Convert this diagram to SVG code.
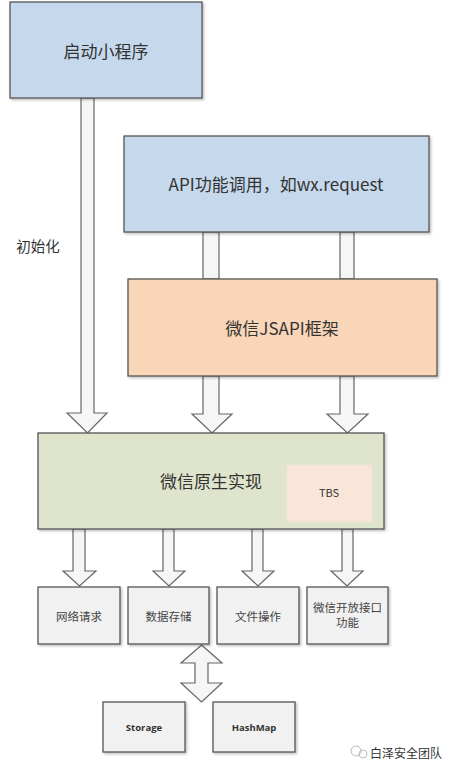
<svg xmlns="http://www.w3.org/2000/svg" width="454" height="772" viewBox="0 0 454 772">
<defs>
<filter id="sh" x="-5%" y="-5%" width="115%" height="120%">
<feDropShadow dx="1.5" dy="1.5" stdDeviation="1" flood-color="#000" flood-opacity="0.25"/>
</filter>
</defs>
<style>
.box{stroke:#555;stroke-width:1.3;filter:url(#sh)}
.blue{fill:#c6d9ec}
.peach{fill:#f9d6b7}
.green{fill:#dfe5cc}
.gray{fill:#f1f1f1}
.arr{fill:#f6f6f6;stroke:#666;stroke-width:1.2;stroke-linejoin:miter}
.t{font-family:"Noto Sans CJK SC","Liberation Sans",sans-serif;fill:#333;text-anchor:middle;dominant-baseline:central}
.big{font-size:17px}
.sm{font-size:11.5px;fill:#444}
.en{font-family:"Open Sans","Liberation Sans",sans-serif;font-weight:bold;font-size:9.5px;fill:#333;text-anchor:middle;dominant-baseline:central}
</style>
<rect width="454" height="772" fill="#fff"/>
<g id="connectors">
<path class="arr" d="M81,98 L94,98 L94,413 L107,413 L87.5,433 L67,413 L81,413 Z"/>
<rect class="arr" x="203" y="232" width="16" height="47"/>
<rect class="arr" x="340" y="232" width="14" height="47"/>
<path class="arr" d="M203,376 L219,376 L219,414 L232,414 L212,433 L192,414 L203,414 Z"/>
<path class="arr" d="M340,376 L354,376 L354,414 L368,414 L347.5,433 L327,414 L340,414 Z"/>
<path class="arr" d="M73,529 L85,529 L85,571 L96,571 L79.5,586 L63,571 L73,571 Z"/>
<path class="arr" d="M163,529 L174,529 L174,571 L185,571 L169,586 L153,571 L163,571 Z"/>
<path class="arr" d="M252,529 L263,529 L263,571 L274,571 L258,586 L242,571 L252,571 Z"/>
<path class="arr" d="M342,529 L353,529 L353,571 L363,571 L347,586 L331,571 L342,571 Z"/>
<path class="arr" d="M201.5,645 L222,663 L208,663 L208,683 L222,683 L201.5,702 L181,683 L195,683 L195,663 L181,663 Z"/>
</g>
<g id="start">
<rect class="box blue" x="10" y="2" width="192" height="96"/>
<text class="t big" x="106" y="50">启动小程序</text>
</g>
<g id="init-label">
<text class="t" x="38" y="245" font-size="14.5">初始化</text>
</g>
<g id="api">
<rect class="box blue" x="124" y="136" width="305" height="96"/>
<text class="t big" x="276" y="183">API功能调用，如wx.request</text>
</g>
<g id="jsapi">
<rect class="box peach" x="128" y="279" width="309" height="97"/>
<text class="t big" x="282" y="327">微信JSAPI框架</text>
</g>
<g id="native">
<rect class="box green" x="38" y="433" width="346" height="96"/>
<text class="t big" x="211" y="480">微信原生实现</text>
</g>
<g id="tbs">
<rect x="287" y="465" width="85" height="57" fill="#f9e6d8" stroke="#efe3d3" stroke-width="1"/>
<text class="t" x="329" y="492" font-size="11" fill="#333">TBS</text>
</g>
<g id="net">
<rect class="box gray" x="38" y="587" width="82" height="57"/>
<text class="t sm" x="79" y="616">网络请求</text>
</g>
<g id="data">
<rect class="box gray" x="128" y="587" width="81" height="57"/>
<text class="t sm" x="168.5" y="616">数据存储</text>
</g>
<g id="file">
<rect class="box gray" x="217" y="587" width="82" height="57"/>
<text class="t sm" x="258" y="616">文件操作</text>
</g>
<g id="open">
<rect class="box gray" x="307" y="587" width="81" height="57"/>
<text class="t sm" x="347.5" y="607">微信开放接口</text>
<text class="t sm" x="347.5" y="622">功能</text>
</g>
<g id="storage">
<rect class="box gray" x="103" y="702" width="82" height="50"/>
<text class="en" x="144" y="727">Storage</text>
</g>
<g id="hashmap">
<rect class="box gray" x="213" y="702" width="82" height="50"/>
<text class="en" x="254" y="727">HashMap</text>
</g>
<g id="watermark">
<circle cx="356" cy="751" r="5" fill="none" stroke="#bbb" stroke-width="1"/>
<circle cx="363" cy="754" r="4" fill="none" stroke="#bbb" stroke-width="1"/>
<text class="t" x="406" y="752" font-size="12" fill="#666">白泽安全团队</text>
</g>
</svg>
